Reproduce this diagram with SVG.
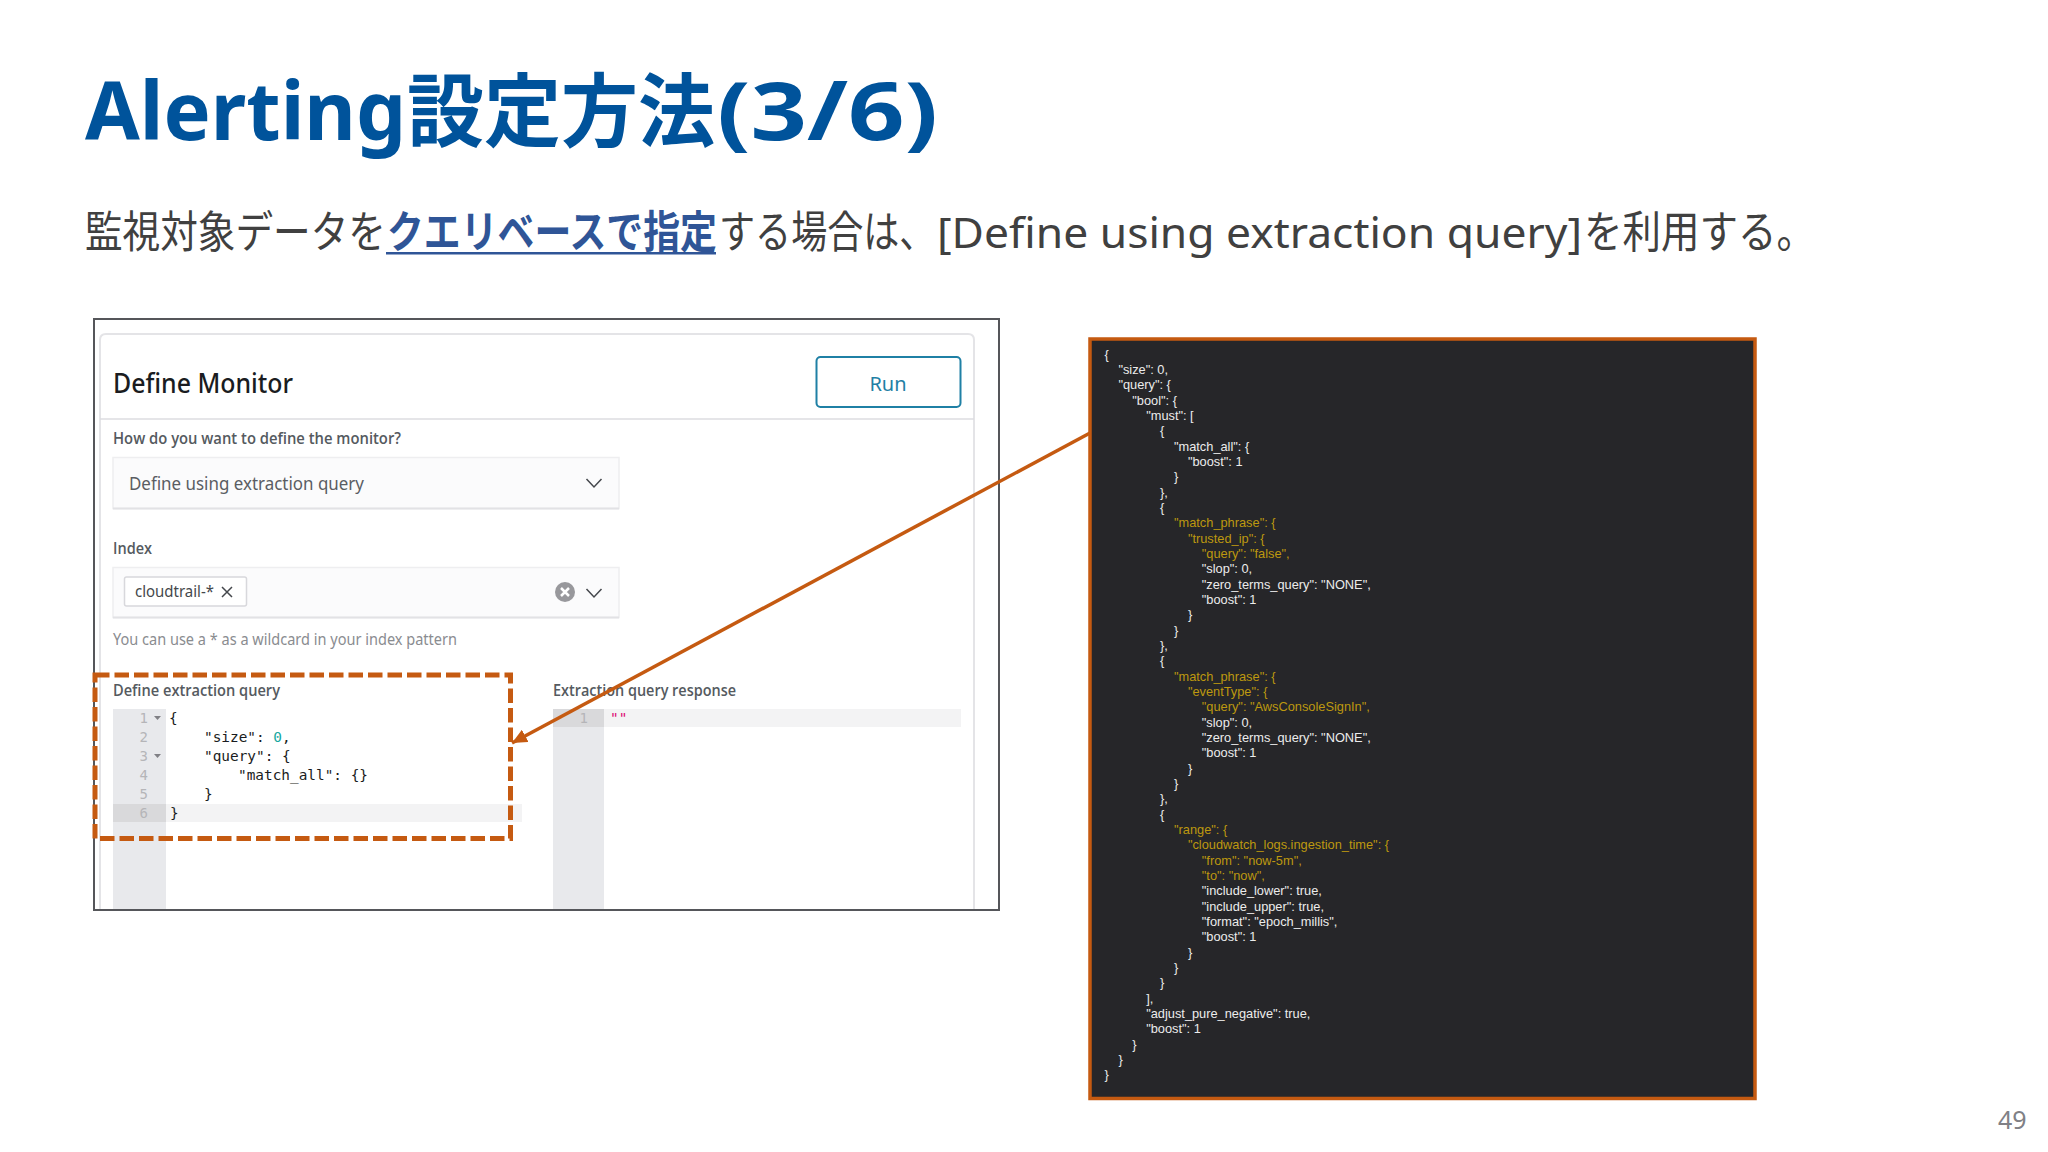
<svg xmlns="http://www.w3.org/2000/svg" width="2048" height="1152" viewBox="0 0 2048 1152">
<style>
text{white-space:pre}
.ui{font-family:"Noto Sans","Open Sans","Noto Sans CJK JP",sans-serif}
.ttl{font-family:"Noto Sans","Noto Sans CJK JP",sans-serif;font-size:80px;font-weight:700;fill:#00539b}
.sub{font-family:"Noto Sans","Noto Sans CJK JP",sans-serif;font-size:44px;fill:#404040}
.subl{font-size:42px}
.subb{font-weight:700;fill:#2f5597}
.lab{font-family:"Open Sans","Noto Sans",sans-serif;font-size:16px;font-weight:600;fill:#555a60}
.code{font-family:"DejaVu Sans Mono",monospace;font-size:14.4px;fill:#1a1c21}
.num{font-family:"DejaVu Sans Mono",monospace;font-size:14px;fill:#b5b5b8;text-anchor:end}
.j{font-family:"Liberation Sans",Arial,sans-serif;font-size:12.8px;fill:#ececec}
.y{fill:#bd980f}
.box{fill:#fbfbfc;stroke:#eeeef0;stroke-width:1.5}
.shade{stroke:#e2e2e5;stroke-width:2;fill:none}
.chev{fill:none;stroke:#44474c;stroke-width:1.5}
.gut{fill:#e8e9ec}
.gutA{fill:#d9d9db}
.act{fill:#f3f3f4}
.tri{fill:#808085}
</style>
<defs>
<marker id="ah" markerUnits="userSpaceOnUse" markerWidth="16" markerHeight="14" refX="15" refY="7" orient="auto"><path d="M0 0L15 7L0 14z" fill="#c55a11"/></marker>
</defs>
<rect width="2048" height="1152" fill="#fff"/>

<g id="title"><text class="ttl" x="85" y="140" textLength="321" lengthAdjust="spacingAndGlyphs">Alerting</text><text class="ttl" x="407" y="140" textLength="308" lengthAdjust="spacingAndGlyphs">設定方法</text><text class="ttl" x="717" y="140" textLength="221" lengthAdjust="spacingAndGlyphs">(3/6)</text></g>

<g id="subtitle">
<text class="sub" transform="translate(85 248) scale(.855 1)">監視対象データを</text>
<text class="sub subb" transform="translate(387 248) scale(.838 1)">クエリベースで指定</text>
<rect x="386" y="252" width="330" height="2.5" fill="#2f5597"/>
<text class="sub" transform="translate(719 248) scale(.82 1)">する場合は、</text>
<text class="sub subl" x="937" y="248" textLength="645" lengthAdjust="spacingAndGlyphs">[Define using extraction query]</text>
<text class="sub" transform="translate(1584 248) scale(.875 1)">を利用する。</text>
</g>

<g id="monitor-panel">
<rect x="94" y="319" width="905" height="591" fill="#fff" stroke="#55565a" stroke-width="2"/>
<path d="M100 909V340Q100 334 106 334H968Q974 334 974 340V909" fill="none" stroke="#e4e4e7" stroke-width="2"/>
<path d="M100 419H974" stroke="#dcdce0" stroke-width="1.5"/>
<text class="ui" x="113" y="393" font-size="26.5" font-weight="500" fill="#1a1c21" textLength="180" lengthAdjust="spacingAndGlyphs">Define Monitor</text>
</g>

<g id="run-button">
<rect x="816.500" y="357" width="144" height="50" rx="4" fill="#fff" stroke="#1f80a5" stroke-width="2"/>
<text class="ui" x="888" y="391" font-size="20" fill="#1f80a5" text-anchor="middle">Run</text>
</g>

<g id="define-select">
<text class="lab" x="113" y="444" textLength="288" lengthAdjust="spacingAndGlyphs">How do you want to define the monitor?</text>
<rect class="box" x="113" y="457.500" width="506" height="51"/>
<path class="shade" d="M113 508.500H619"/>
<text class="ui" x="129" y="490" font-size="18.5" fill="#5a5d63" textLength="235" lengthAdjust="spacingAndGlyphs">Define using extraction query</text>
<path class="chev" d="M586.500 479L594 487L601.500 479"/>
</g>

<g id="index-select">
<text class="lab" x="113" y="554" textLength="39" lengthAdjust="spacingAndGlyphs">Index</text>
<rect class="box" x="113" y="567.500" width="506" height="50"/>
<path class="shade" d="M113 617.500H619"/>
<rect x="124.500" y="577" width="122" height="29" rx="2" fill="#fff" stroke="#d8d8dc" stroke-width="1.5"/>
<text class="ui" x="135" y="597" font-size="16" fill="#44474c" textLength="79" lengthAdjust="spacingAndGlyphs">cloudtrail-*</text>
<path class="chev" d="M222 587L232 597M232 587L222 597"/>
<circle cx="565" cy="592" r="10" fill="#98989c"/>
<path d="M561 588L569 596M569 588L561 596" stroke="#fff" stroke-width="2.500"/>
<path class="chev" d="M586.500 589L594 597L601.500 589"/>
<text class="ui" x="113" y="645" font-size="16" fill="#8a8c90" textLength="344" lengthAdjust="spacingAndGlyphs">You can use a * as a wildcard in your index pattern</text>
</g>

<g id="query-editor">
<text class="lab" x="113" y="696" textLength="167" lengthAdjust="spacingAndGlyphs">Define extraction query</text>
<rect class="gut" x="113" y="709" width="53" height="200"/>
<rect class="act" x="166" y="804" width="356" height="18"/>
<rect class="gutA" x="113" y="804" width="53" height="18"/>
<text class="num" x="148" y="723">1</text><text class="num" x="148" y="742">2</text><text class="num" x="148" y="761">3</text><text class="num" x="148" y="780">4</text><text class="num" x="148" y="799">5</text><text class="num" x="148" y="818">6</text>
<path class="tri" d="M154 716H161L157.500 720zM154 754H161L157.500 758z"/>
<text class="code" x="169" y="723">{</text>
<text class="code" x="204" y="742">"size": <tspan fill="#17a8a0">0</tspan>,</text>
<text class="code" x="204" y="761">"query": {</text>
<text class="code" x="238" y="780">"match_all": {}</text>
<text class="code" x="204" y="799">}</text>
<text class="code" x="170" y="818">}</text>
</g>

<g id="response-editor">
<text class="lab" x="553" y="696" textLength="183" lengthAdjust="spacingAndGlyphs">Extraction query response</text>
<rect class="gut" x="553" y="709" width="51" height="200"/>
<rect class="act" x="604" y="709" width="357" height="18"/>
<rect class="gutA" x="553" y="709" width="51" height="18"/>
<text class="num" x="588" y="723">1</text>
<text class="code" x="610" y="723" style="fill:#dd0a73">""</text>
</g>

<g id="json-panel">
<rect x="1090" y="339" width="665" height="759.500" fill="#262629" stroke="#c55a11" stroke-width="3.500"/>
<g>
<text class="j" x="1104.500" y="358.700">{</text>
<text class="j" x="1118.400" y="374">"size": 0,</text>
<text class="j" x="1118.400" y="389.400">"query": {</text>
<text class="j" x="1132.300" y="404.700">"bool": {</text>
<text class="j" x="1146.200" y="420">"must": [</text>
<text class="j" x="1160.100" y="435.400">{</text>
<text class="j" x="1174" y="450.700">"match_all": {</text>
<text class="j" x="1187.900" y="466">"boost": 1</text>
<text class="j" x="1174" y="481.300">}</text>
<text class="j" x="1160.100" y="496.700">},</text>
<text class="j" x="1160.100" y="512">{</text>
<text class="j y" x="1174" y="527.300">"match_phrase": {</text>
<text class="j y" x="1187.900" y="542.700">"trusted_ip": {</text>
<text class="j y" x="1201.800" y="558">"query": "false",</text>
<text class="j" x="1201.800" y="573.300">"slop": 0,</text>
<text class="j" x="1201.800" y="588.700">"zero_terms_query": "NONE",</text>
<text class="j" x="1201.800" y="604">"boost": 1</text>
<text class="j" x="1187.900" y="619.300">}</text>
<text class="j" x="1174" y="634.700">}</text>
<text class="j" x="1160.100" y="650">},</text>
<text class="j" x="1160.100" y="665.300">{</text>
<text class="j y" x="1174" y="680.700">"match_phrase": {</text>
<text class="j y" x="1187.900" y="696">"eventType": {</text>
<text class="j y" x="1201.800" y="711.300">"query": "AwsConsoleSignIn",</text>
<text class="j" x="1201.800" y="726.600">"slop": 0,</text>
<text class="j" x="1201.800" y="742">"zero_terms_query": "NONE",</text>
<text class="j" x="1201.800" y="757.300">"boost": 1</text>
<text class="j" x="1187.900" y="772.600">}</text>
<text class="j" x="1174" y="788">}</text>
<text class="j" x="1160.100" y="803.300">},</text>
<text class="j" x="1160.100" y="818.600">{</text>
<text class="j y" x="1174" y="834">"range": {</text>
<text class="j y" x="1187.900" y="849.300">"cloudwatch_logs.ingestion_time": {</text>
<text class="j y" x="1201.800" y="864.600">"from": "now-5m",</text>
<text class="j y" x="1201.800" y="880">"to": "now",</text>
<text class="j" x="1201.800" y="895.300">"include_lower": true,</text>
<text class="j" x="1201.800" y="910.600">"include_upper": true,</text>
<text class="j" x="1201.800" y="926">"format": "epoch_millis",</text>
<text class="j" x="1201.800" y="941.300">"boost": 1</text>
<text class="j" x="1187.900" y="956.600">}</text>
<text class="j" x="1174" y="972">}</text>
<text class="j" x="1160.100" y="987.300">}</text>
<text class="j" x="1146.200" y="1002.600">],</text>
<text class="j" x="1146.200" y="1018">"adjust_pure_negative": true,</text>
<text class="j" x="1146.200" y="1033.300">"boost": 1</text>
<text class="j" x="1132.300" y="1048.600">}</text>
<text class="j" x="1118.400" y="1064">}</text>
<text class="j" x="1104.500" y="1079.300">}</text>
</g>
</g>

<g id="highlight-box">
<rect x="95" y="675" width="415.500" height="163.500" fill="none" stroke="#c55a11" stroke-width="5" stroke-dasharray="14.500 5"/>
</g>

<g id="connectors">
<path d="M1090 433L512 743" fill="none" stroke="#c55a11" stroke-width="3.500" marker-end="url(#ah)"/>
</g>

<g id="page-number"><text class="ui" x="1998" y="1129" font-size="25" fill="#808085">49</text></g>
</svg>
